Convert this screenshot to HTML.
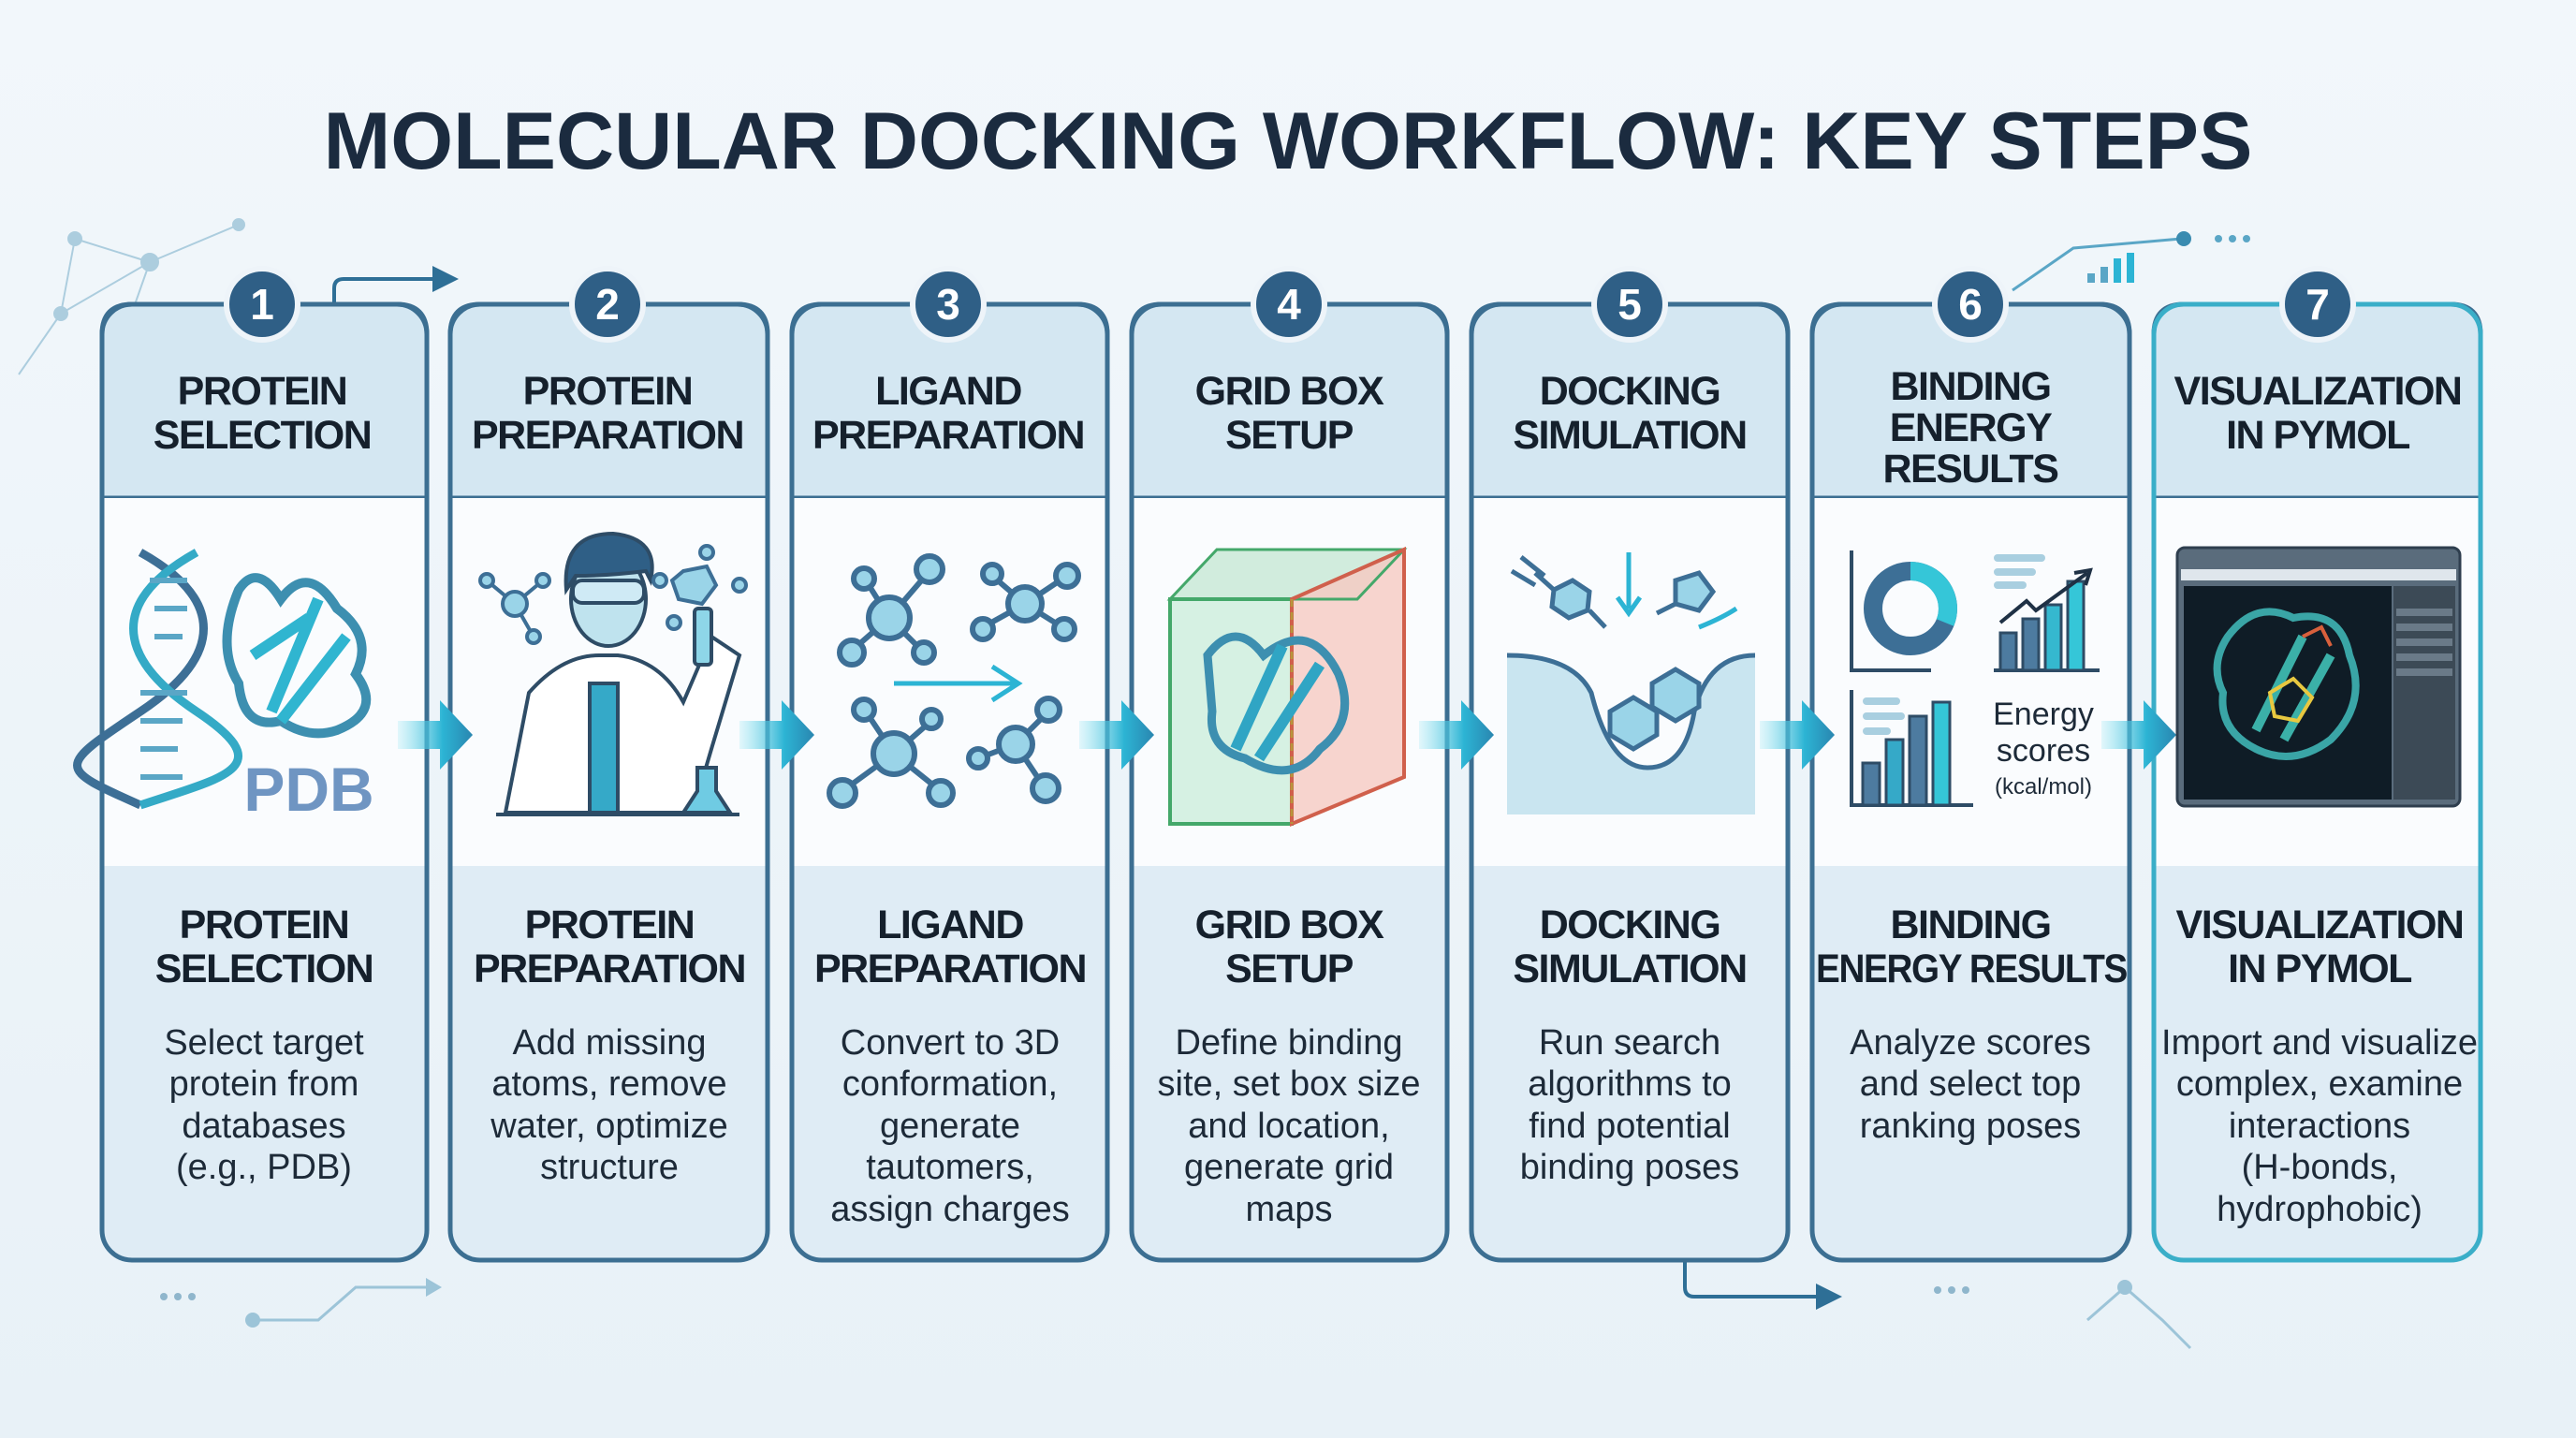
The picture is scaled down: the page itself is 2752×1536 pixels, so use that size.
<!DOCTYPE html>
<html><head><meta charset="utf-8"><style>
html,body{margin:0;padding:0;background:#eef4f9;}
svg{display:block}
text{font-family:"Liberation Sans",sans-serif}
</style></head><body>
<svg width="2752" height="1536" viewBox="0 0 2752 1536" xmlns="http://www.w3.org/2000/svg">
<defs>
<linearGradient id="bg" x1="0" y1="0" x2="0" y2="1"><stop offset="0" stop-color="#f2f7fb"/><stop offset="1" stop-color="#e8f1f7"/></linearGradient>
<linearGradient id="arr" x1="0" y1="0" x2="1" y2="0"><stop offset="0" stop-color="#7fe0f0" stop-opacity="0.2"/><stop offset="0.6" stop-color="#2cb4d4"/><stop offset="1" stop-color="#2a86b0"/></linearGradient>
</defs>
<rect width="2752" height="1536" fill="url(#bg)"/>

<g stroke="#9cc4d8" stroke-width="2" fill="#9cc4d8" opacity="0.8">
<line x1="80" y1="255" x2="160" y2="280"/><line x1="160" y1="280" x2="255" y2="240"/><line x1="80" y1="255" x2="65" y2="335"/><line x1="65" y1="335" x2="160" y2="280"/><line x1="160" y1="280" x2="130" y2="365"/><line x1="65" y1="335" x2="20" y2="400"/>
<circle cx="80" cy="255" r="7"/><circle cx="160" cy="280" r="9"/><circle cx="255" cy="240" r="6"/><circle cx="65" cy="335" r="7"/><circle cx="130" cy="365" r="5"/>
</g>
<g stroke="#5aa6c6" stroke-width="3" fill="none"><path d="M2150 310 L2215 265 L2330 255"/></g>
<circle cx="2333" cy="255" r="8" fill="#3a8bb0"/>
<g fill="#5aa6c6"><circle cx="2370" cy="255" r="4"/><circle cx="2385" cy="255" r="4"/><circle cx="2400" cy="255" r="4"/>
<rect x="2230" y="292" width="8" height="10"/><rect x="2244" y="285" width="8" height="17"/><rect x="2258" y="276" width="8" height="26" fill="#2cb4d4"/><rect x="2272" y="270" width="8" height="32" fill="#2cb4d4"/></g>
<g stroke="#9cc4d8" stroke-width="3" fill="none"><path d="M270 1410 L340 1410 L380 1375 L455 1375"/><path d="M2230 1410 L2270 1375 L2310 1410 L2340 1440"/></g>
<polygon points="455,1365 472,1375 455,1385" fill="#9cc4d8"/>
<circle cx="270" cy="1410" r="8" fill="#9cc4d8"/><circle cx="2270" cy="1375" r="8" fill="#9cc4d8"/>
<g fill="#8fb6cc"><circle cx="175" cy="1385" r="4"/><circle cx="190" cy="1385" r="4"/><circle cx="205" cy="1385" r="4"/><circle cx="2070" cy="1378" r="4"/><circle cx="2085" cy="1378" r="4"/><circle cx="2100" cy="1378" r="4"/></g>

<text x="1376" y="180" text-anchor="middle" font-size="86" font-weight="bold" fill="#1b2b3f">MOLECULAR DOCKING WORKFLOW: KEY STEPS</text>

<path d="M357 325 L357 308 Q357 298 367 298 L470 298" stroke="#2e6f96" stroke-width="4" fill="none"/>
<polygon points="462,284 490,298 462,312" fill="#2e6f96"/>
<path d="M1800 1348 L1800 1375 Q1800 1385 1810 1385 L1945 1385" stroke="#2e6f96" stroke-width="4" fill="none"/>
<polygon points="1940,1371 1968,1385 1940,1399" fill="#2e6f96"/>

<g stroke="#3c6f92" stroke-width="5">
<g>
<path d="M109 532 V357 Q109 325 141 325 H424 Q456 325 456 357 V532 Z" fill="#d4e7f2"/>
<rect x="109" y="532" width="347" height="393" fill="#fafcfe" stroke="none"/>
<path d="M109 925 H456 V1314 Q456 1346 424 1346 H141 Q109 1346 109 1314 Z" fill="#dfecf5" stroke="none"/>
<rect x="109" y="325" width="347" height="1021" rx="32" fill="none"/>
</g>
<g>
<path d="M481 532 V357 Q481 325 513 325 H788 Q820 325 820 357 V532 Z" fill="#d4e7f2"/>
<rect x="481" y="532" width="339" height="393" fill="#fafcfe" stroke="none"/>
<path d="M481 925 H820 V1314 Q820 1346 788 1346 H513 Q481 1346 481 1314 Z" fill="#dfecf5" stroke="none"/>
<rect x="481" y="325" width="339" height="1021" rx="32" fill="none"/>
</g>
<g>
<path d="M846 532 V357 Q846 325 878 325 H1151 Q1183 325 1183 357 V532 Z" fill="#d4e7f2"/>
<rect x="846" y="532" width="337" height="393" fill="#fafcfe" stroke="none"/>
<path d="M846 925 H1183 V1314 Q1183 1346 1151 1346 H878 Q846 1346 846 1314 Z" fill="#dfecf5" stroke="none"/>
<rect x="846" y="325" width="337" height="1021" rx="32" fill="none"/>
</g>
<g>
<path d="M1209 532 V357 Q1209 325 1241 325 H1514 Q1546 325 1546 357 V532 Z" fill="#d4e7f2"/>
<rect x="1209" y="532" width="337" height="393" fill="#fafcfe" stroke="none"/>
<path d="M1209 925 H1546 V1314 Q1546 1346 1514 1346 H1241 Q1209 1346 1209 1314 Z" fill="#dfecf5" stroke="none"/>
<rect x="1209" y="325" width="337" height="1021" rx="32" fill="none"/>
</g>
<g>
<path d="M1572 532 V357 Q1572 325 1604 325 H1878 Q1910 325 1910 357 V532 Z" fill="#d4e7f2"/>
<rect x="1572" y="532" width="338" height="393" fill="#fafcfe" stroke="none"/>
<path d="M1572 925 H1910 V1314 Q1910 1346 1878 1346 H1604 Q1572 1346 1572 1314 Z" fill="#dfecf5" stroke="none"/>
<rect x="1572" y="325" width="338" height="1021" rx="32" fill="none"/>
</g>
<g>
<path d="M1936 532 V357 Q1936 325 1968 325 H2243 Q2275 325 2275 357 V532 Z" fill="#d4e7f2"/>
<rect x="1936" y="532" width="339" height="393" fill="#fafcfe" stroke="none"/>
<path d="M1936 925 H2275 V1314 Q2275 1346 2243 1346 H1968 Q1936 1346 1936 1314 Z" fill="#dfecf5" stroke="none"/>
<rect x="1936" y="325" width="339" height="1021" rx="32" fill="none"/>
</g>
<g>
<path d="M2301 532 V357 Q2301 325 2333 325 H2618 Q2650 325 2650 357 V532 Z" fill="#d4e7f2"/>
<rect x="2301" y="532" width="349" height="393" fill="#fafcfe" stroke="none"/>
<path d="M2301 925 H2650 V1314 Q2650 1346 2618 1346 H2333 Q2301 1346 2301 1314 Z" fill="#dfecf5" stroke="none"/>
<rect x="2301" y="325" width="349" height="1021" rx="32" fill="none" stroke="#3aaec8"/>
</g>
</g>

<g fill="#2f5f86" stroke="#eef4f9" stroke-width="6">
<circle cx="280" cy="325" r="38"/><circle cx="649" cy="325" r="38"/><circle cx="1013" cy="325" r="38"/><circle cx="1377" cy="325" r="38"/><circle cx="1741" cy="325" r="38"/><circle cx="2105" cy="325" r="38"/><circle cx="2476" cy="325" r="38"/>
</g>
<g fill="#fff" font-size="46" font-weight="bold" text-anchor="middle">
<text x="280" y="341">1</text><text x="649" y="341">2</text><text x="1013" y="341">3</text><text x="1377" y="341">4</text><text x="1741" y="341">5</text><text x="2105" y="341">6</text><text x="2476" y="341">7</text>
</g>

<g fill="#15202c" font-size="43" font-weight="bold" text-anchor="middle" letter-spacing="-1.5">
<text x="280" y="432">PROTEIN</text><text x="280" y="479">SELECTION</text>
<text x="649" y="432">PROTEIN</text><text x="649" y="479">PREPARATION</text>
<text x="1013" y="432">LIGAND</text><text x="1013" y="479">PREPARATION</text>
<text x="1377" y="432">GRID BOX</text><text x="1377" y="479">SETUP</text>
<text x="1741" y="432">DOCKING</text><text x="1741" y="479">SIMULATION</text>
<text x="2105" y="427">BINDING</text><text x="2105" y="471">ENERGY</text><text x="2105" y="515">RESULTS</text>
<text x="2476" y="432">VISUALIZATION</text><text x="2476" y="479">IN PYMOL</text>
</g>

<g fill="#15202c" font-size="43" font-weight="bold" text-anchor="middle" letter-spacing="-1.5">
<text x="282" y="1002">PROTEIN</text><text x="282" y="1049">SELECTION</text>
<text x="651" y="1002">PROTEIN</text><text x="651" y="1049">PREPARATION</text>
<text x="1015" y="1002">LIGAND</text><text x="1015" y="1049">PREPARATION</text>
<text x="1377" y="1002">GRID BOX</text><text x="1377" y="1049">SETUP</text>
<text x="1741" y="1002">DOCKING</text><text x="1741" y="1049">SIMULATION</text>
<text x="2105" y="1002">BINDING</text><text x="2106" y="1049" textLength="332" lengthAdjust="spacingAndGlyphs">ENERGY RESULTS</text>
<text x="2478" y="1002">VISUALIZATION</text><text x="2478" y="1049">IN PYMOL</text>
</g>

<g fill="#1d2a38" font-size="38" text-anchor="middle">
<text x="282" y="1126">Select target</text><text x="282" y="1170">protein from</text><text x="282" y="1215">databases</text><text x="282" y="1259">(e.g., PDB)</text>
<text x="651" y="1126">Add missing</text><text x="651" y="1170">atoms, remove</text><text x="651" y="1215">water, optimize</text><text x="651" y="1259">structure</text>
<text x="1015" y="1126">Convert to 3D</text><text x="1015" y="1170">conformation,</text><text x="1015" y="1215">generate</text><text x="1015" y="1259">tautomers,</text><text x="1015" y="1304">assign charges</text>
<text x="1377" y="1126">Define binding</text><text x="1377" y="1170">site, set box size</text><text x="1377" y="1215">and location,</text><text x="1377" y="1259">generate grid</text><text x="1377" y="1304">maps</text>
<text x="1741" y="1126">Run search</text><text x="1741" y="1170">algorithms to</text><text x="1741" y="1215">find potential</text><text x="1741" y="1259">binding poses</text>
<text x="2105" y="1126">Analyze scores</text><text x="2105" y="1170">and select top</text><text x="2105" y="1215">ranking poses</text>
<text x="2478" y="1126">Import and visualize</text><text x="2478" y="1170">complex, examine</text><text x="2478" y="1215">interactions</text><text x="2478" y="1259">(H-bonds,</text><text x="2478" y="1304">hydrophobic)</text>
</g>

<g fill="url(#arr)">
<path d="M425 770 H470 V748 L505 785 L470 822 V800 H425 Z"/>
<path d="M790 770 H835 V748 L870 785 L835 822 V800 H790 Z"/>
<path d="M1153 770 H1198 V748 L1233 785 L1198 822 V800 H1153 Z"/>
<path d="M1516 770 H1561 V748 L1596 785 L1561 822 V800 H1516 Z"/>
<path d="M1880 770 H1925 V748 L1960 785 L1925 822 V800 H1880 Z"/>
<path d="M2245 770 H2290 V748 L2325 785 L2290 822 V800 H2245 Z"/>
</g>

<!-- icon 1 -->
<g fill="none" stroke-width="9">
<path d="M150 590 C240 640 240 700 150 760 C60 820 60 820 150 860" stroke="#3d6f96"/>
<path d="M210 590 C120 640 120 700 210 760 C300 820 240 830 150 860" stroke="#34aac6"/>
</g>
<g stroke="#5aa6c6" stroke-width="6"><line x1="160" y1="620" x2="200" y2="620"/><line x1="165" y1="650" x2="200" y2="650"/><line x1="165" y1="680" x2="195" y2="680"/><line x1="150" y1="740" x2="200" y2="740"/><line x1="150" y1="770" x2="195" y2="770"/><line x1="150" y1="800" x2="190" y2="800"/><line x1="150" y1="830" x2="195" y2="830"/></g>
<g fill="none" stroke="#3d8fb0" stroke-width="10"><path d="M255 630 Q275 600 300 640 Q330 600 360 650 Q400 680 380 720 Q410 760 360 780 Q330 790 300 770 Q260 780 255 730 Q230 690 255 630Z"/></g>
<g stroke="#30b5d0" stroke-width="12"><line x1="290" y1="760" x2="340" y2="640"/><line x1="300" y1="770" x2="370" y2="680"/><line x1="270" y1="700" x2="330" y2="660"/></g>
<text x="330" y="866" text-anchor="middle" font-size="66" font-weight="bold" fill="#6f95c2">PDB</text>

<!-- icon 2 -->
<g transform="translate(0,40)">
<g stroke="#2e4c66" stroke-width="4">
<path d="M540 828 L565 700 Q600 660 640 660 L660 660 Q705 665 730 710 L760 640 L790 660 L760 760 L740 828Z" fill="#fff"/>
<rect x="630" y="690" width="30" height="138" fill="#35a9c8"/>
<ellipse cx="650" cy="600" rx="40" ry="50" fill="#bfe3ee"/>
<path d="M605 590 Q600 530 655 530 Q705 535 695 580 L690 570 Q650 575 615 575 Z" fill="#2f5f86"/>
<rect x="612" y="580" width="76" height="24" rx="10" fill="#cfeaf5"/>
<rect x="742" y="610" width="18" height="60" rx="4" fill="#8ed6e8"/>
<path d="M745 780 L745 805 L730 828 L780 828 L765 805 L765 780Z" fill="#6fcbe3"/>
<line x1="530" y1="830" x2="790" y2="830"/>
</g>
<g stroke="#3d6f96" stroke-width="4" fill="#9ad4e8"><line x1="550" y1="605" x2="520" y2="580"/><line x1="550" y1="605" x2="580" y2="580"/><line x1="550" y1="605" x2="570" y2="640"/><circle cx="550" cy="605" r="13"/><circle cx="520" cy="580" r="7"/><circle cx="580" cy="580" r="7"/><circle cx="570" cy="640" r="7"/>
<polygon points="730,570 755,565 765,585 750,605 725,600 718,580"/><circle cx="705" cy="580" r="7"/><circle cx="790" cy="585" r="7"/><circle cx="720" cy="625" r="7"/><circle cx="755" cy="550" r="7"/></g>
</g>

<!-- icon 3 -->
<g stroke="#3d6f96" stroke-width="6" fill="#9ad4e8">
<line x1="910" y1="695" x2="950" y2="660"/><line x1="950" y1="660" x2="993" y2="610"/><line x1="950" y1="660" x2="925" y2="620"/><line x1="950" y1="660" x2="985" y2="695"/>
<circle cx="950" cy="660" r="22"/><circle cx="993" cy="608" r="14"/><circle cx="910" cy="697" r="13"/><circle cx="923" cy="618" r="11"/><circle cx="987" cy="697" r="11"/>
<line x1="1050" y1="670" x2="1095" y2="645"/><line x1="1095" y1="645" x2="1140" y2="615"/><line x1="1095" y1="645" x2="1060" y2="615"/><line x1="1095" y1="645" x2="1135" y2="670"/>
<circle cx="1095" cy="645" r="18"/><circle cx="1140" cy="615" r="12"/><circle cx="1050" cy="672" r="11"/><circle cx="1060" cy="613" r="10"/><circle cx="1137" cy="672" r="11"/>
<line x1="900" y1="845" x2="955" y2="805"/><line x1="955" y1="805" x2="1005" y2="845"/><line x1="955" y1="805" x2="925" y2="760"/><line x1="955" y1="805" x2="995" y2="770"/>
<circle cx="955" cy="805" r="22"/><circle cx="900" cy="847" r="14"/><circle cx="1005" cy="847" r="13"/><circle cx="923" cy="758" r="11"/><circle cx="995" cy="768" r="10"/>
<line x1="1045" y1="810" x2="1085" y2="795"/><line x1="1085" y1="795" x2="1120" y2="760"/><line x1="1085" y1="795" x2="1115" y2="840"/>
<circle cx="1085" cy="795" r="18"/><circle cx="1120" cy="758" r="12"/><circle cx="1117" cy="842" r="14"/><circle cx="1045" cy="810" r="10"/>
</g>
<g stroke="#2cb4d4" stroke-width="5" fill="none"><line x1="955" y1="730" x2="1085" y2="730"/><path d="M1060 712 L1088 730 L1060 748"/></g>

<!-- icon 4 -->
<polygon points="1250,640 1300,587 1500,587 1450,640" fill="#bfe6cf" opacity="0.7"/>
<rect x="1250" y="640" width="130" height="240" fill="#cdeedc" opacity="0.8"/>
<polygon points="1380,640 1500,587 1500,830 1380,880" fill="#f6c9c2" opacity="0.8"/>
<rect x="1250" y="640" width="130" height="240" fill="none" stroke="#44a86a" stroke-width="4"/>
<polygon points="1250,640 1300,587 1500,587 1450,640" fill="none" stroke="#44a86a" stroke-width="3"/>
<polygon points="1380,640 1500,587 1500,830 1380,880" fill="none" stroke="#d0604c" stroke-width="4"/>
<line x1="1380" y1="640" x2="1380" y2="880" stroke="#b8953c" stroke-width="3" stroke-dasharray="8 6"/>
<g fill="none" stroke="#3d8fb0" stroke-width="9"><path d="M1290 700 Q1320 660 1350 700 Q1400 660 1430 720 Q1450 770 1410 800 Q1380 840 1330 810 Q1290 800 1295 760Z"/></g>
<g stroke="#30a5c4" stroke-width="12"><line x1="1320" y1="800" x2="1370" y2="690"/><line x1="1345" y1="810" x2="1410" y2="710"/></g>

<!-- icon 5 -->
<path d="M1610 700 Q1680 700 1700 740 Q1720 820 1760 820 Q1800 820 1810 760 Q1825 700 1875 700 L1875 870 L1610 870Z" fill="#c9e5f0"/>
<path d="M1610 700 Q1680 700 1700 740 Q1720 820 1760 820 Q1800 820 1810 760 Q1825 700 1875 700" fill="none" stroke="#3d6f96" stroke-width="5"/>
<g stroke="#3d6f96" stroke-width="5" fill="#9ad4e8">
<polygon points="1720,760 1745,745 1770,760 1770,785 1745,800 1720,785"/><polygon points="1765,730 1790,715 1815,730 1815,755 1790,770 1765,755"/>
<polygon points="1660,630 1680,620 1698,632 1696,652 1676,660 1658,648"/><line x1="1640" y1="612" x2="1660" y2="630"/><line x1="1698" y1="652" x2="1715" y2="670"/>
<polygon points="1790,620 1815,612 1830,632 1815,652 1790,645"/><line x1="1770" y1="655" x2="1790" y2="645"/>
</g>
<g stroke="#2cb4d4" stroke-width="5" fill="none"><line x1="1740" y1="590" x2="1740" y2="650"/><path d="M1728 638 L1740 655 L1752 638"/><path d="M1815 670 Q1840 660 1855 650"/><path d="M1625 595 L1650 615 M1615 610 L1640 625" stroke="#3d6f96"/></g>

<!-- icon 6 -->
<g stroke="#2e4c66" stroke-width="4" fill="none"><path d="M1978 588 V716 H2063"/><path d="M2130 716 H2243"/><path d="M1978 737 V860 H2108"/></g>
<circle cx="2041" cy="650" r="40" fill="none" stroke="#3d6f96" stroke-width="20"/>
<path d="M2041 610 A40 40 0 0 1 2078 665" fill="none" stroke="#35c6d8" stroke-width="20"/>
<g fill="#a9cfe0"><rect x="2130" y="592" width="55" height="8" rx="4"/><rect x="2130" y="607" width="45" height="8" rx="4"/><rect x="2130" y="621" width="35" height="8" rx="4"/><rect x="1990" y="745" width="40" height="8" rx="4"/><rect x="1990" y="761" width="45" height="8" rx="4"/><rect x="1990" y="777" width="30" height="8" rx="4"/></g>
<g stroke="#2e4c66" stroke-width="3"><rect x="2137" y="676" width="17" height="40" fill="#4d7ba0"/><rect x="2161" y="661" width="17" height="55" fill="#4d7ba0"/><rect x="2185" y="646" width="17" height="70" fill="#35b8cf"/><rect x="2209" y="621" width="17" height="95" fill="#35c6d8"/>
<rect x="1990" y="815" width="18" height="45" fill="#4d7ba0"/><rect x="2015" y="790" width="18" height="70" fill="#35a9c8"/><rect x="2040" y="765" width="18" height="95" fill="#4d7ba0"/><rect x="2065" y="750" width="18" height="110" fill="#35c6d8"/></g>
<path d="M2137 665 L2165 642 L2175 652 L2230 612" fill="none" stroke="#1f3145" stroke-width="4"/>
<path d="M2216 612 L2233 609 L2228 625" fill="none" stroke="#1f3145" stroke-width="4"/>
<text x="2183" y="774" text-anchor="middle" font-size="34" fill="#1d2a38">Energy</text>
<text x="2183" y="813" text-anchor="middle" font-size="34" fill="#1d2a38">scores</text>
<text x="2183" y="848" text-anchor="middle" font-size="24" fill="#1d2a38">(kcal/mol)</text>

<!-- icon 7 -->
<rect x="2326" y="585" width="302" height="276" rx="8" fill="#5a6c7c" stroke="#2e3e4e" stroke-width="3"/>
<rect x="2330" y="608" width="294" height="12" fill="#dfe6ec"/>
<rect x="2333" y="626" width="222" height="228" fill="#0f1c26"/>
<rect x="2557" y="626" width="66" height="228" fill="#3c4a56"/>
<g fill="#6a7a88"><rect x="2560" y="650" width="60" height="8"/><rect x="2560" y="666" width="60" height="8"/><rect x="2560" y="682" width="60" height="8"/><rect x="2560" y="698" width="60" height="8"/><rect x="2560" y="714" width="60" height="8"/></g>
<g fill="none" stroke="#3aa5a6" stroke-width="8"><path d="M2380 680 Q2410 640 2450 660 Q2500 650 2510 700 Q2530 750 2490 790 Q2450 820 2410 800 Q2370 780 2375 740 Q2360 710 2380 680Z"/></g>
<g stroke="#3bb0a8" stroke-width="10"><line x1="2410" y1="780" x2="2460" y2="680"/><line x1="2440" y1="790" x2="2490" y2="700"/></g>
<path d="M2425 740 L2450 725 L2470 745 L2455 770 L2430 765Z" fill="none" stroke="#e8c840" stroke-width="4"/>
<path d="M2460 680 L2480 670 L2490 690" fill="none" stroke="#d8603c" stroke-width="4"/>
</svg>
</body></html>
